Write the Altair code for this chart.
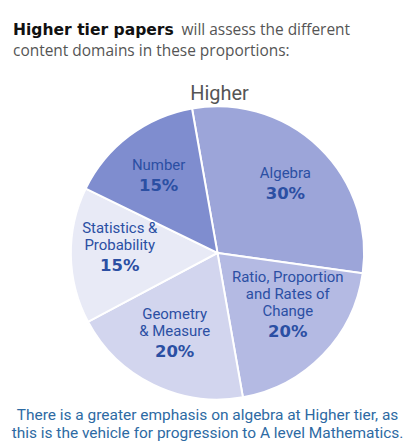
import altair as alt
import pandas as pd
import math

categories = ["Algebra", "Ratio", "Geometry", "Statistics", "Number"]
line1 = ["", "Ratio, Proportion", "", "", ""]
line2 = ["", "and Rates of", "Geometry", "Statistics &", ""]
line3 = ["Algebra", "Change", "& Measure", "Probability", "Number"]
values = [30, 20, 20, 15, 15]
order_idx = [0, 1, 2, 3, 4]
pct_labels = ["30%", "20%", "20%", "15%", "15%"]
slice_colors = ["#9ca5d9", "#b4bae3", "#d2d5ee", "#e8eaf6", "#7f8dcf"]

df = pd.DataFrame({"cat": categories, "l1": line1, "l2": line2, "l3": line3,
                   "val": values, "idx": order_idx, "pct": pct_labels})

PL, PT = 20, 53
W, H = 380, 384
def px(x):
    return x - 8 - PL
def py(y):
    return y - 8 - PT

start = -10 * math.pi / 180
theta_scale = alt.Scale(range=[start, start + 2 * math.pi])
FONT = "Roboto"
R = 147
LR = 98
LH = 17
LBL = "#2b4fa3"

base = alt.Chart(df).encode(
    theta=alt.Theta("val:Q", stack=True, scale=theta_scale),
    order=alt.Order("idx:Q"),
)

pie = base.mark_arc(radius=R, stroke="white", strokeWidth=2).encode(
    color=alt.Color("cat:N", scale=alt.Scale(domain=categories, range=slice_colors), legend=None)
)

def name_layer(field, k):
    return base.mark_text(font=FONT, fontSize=15, color=LBL, baseline="middle",
                          dy=-10 - k * LH).encode(text=f"{field}:N", radius=alt.value(LR))

n1 = name_layer("l1", 2)
n2 = name_layer("l2", 1)
n3 = name_layer("l3", 0)
pcts = base.mark_text(font="DejaVu Sans", fontSize=16.5, fontWeight="bold", color=LBL,
                      baseline="middle", dy=11).encode(
    text="pct:N", radius=alt.value(LR)
)

def label(txt, x, y, font=FONT, **kw):
    return alt.Chart(pd.DataFrame({"t": [txt]})).mark_text(font=font, **kw).encode(
        text="t:N", x=alt.value(px(x)), y=alt.value(py(y))
    )

t1 = label("Higher tier papers", 13, 30, font="DejaVu Sans", fontSize=15.6,
           fontWeight="bold", color="#111111", align="left")
t2 = label("will assess the different", 182, 30, font="Open Sans", fontSize=15.5,
           color="#555555", align="left")
t3 = label("content domains in these proportions:", 13, 51, font="Open Sans", fontSize=15.5,
           color="#555555", align="left")
t4 = label("Higher", 220, 94, fontSize=20, color="#555555", align="center")
b1 = label("There is a greater emphasis on algebra at Higher tier, as", 208, 415,
           fontSize=15.5, color="#2d6aa3", align="center")
b2 = label("this is the vehicle for progression to A level Mathematics.", 208, 434,
           fontSize=15.5, color="#2d6aa3", align="center")

chart = alt.layer(pie, n1, n2, n3, pcts, t1, t2, t3, t4, b1, b2).properties(
    width=W, height=H,
    autosize=alt.AutoSizeParams(type="none"),
    padding={"left": PL, "top": PT, "right": 0, "bottom": 0},
    background="white",
).configure_view(stroke=None)

chart.save("out.html", embed_options={"renderer": "svg", "actions": False})
